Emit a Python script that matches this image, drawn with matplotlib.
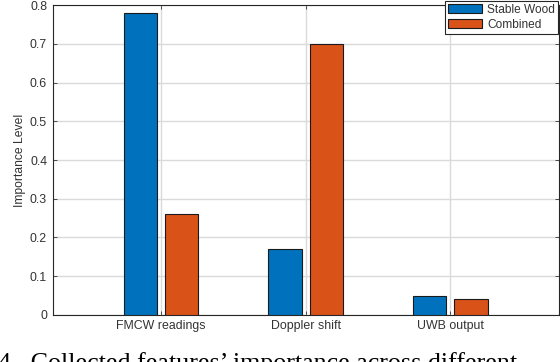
import numpy as np
import matplotlib
matplotlib.use("Agg")
import matplotlib.pyplot as plt

# feature importance
features = ['FMCW readings', 'Doppler shift', 'UWB output']
stable_wood = [0.78, 0.17, 0.05]
combined = [0.26, 0.70, 0.04]
series_names = ['Stable Wood', 'Combined']

plt.rcParams['font.family'] = ['Liberation Sans', 'DejaVu Sans']

fig = plt.figure(figsize=(5.6, 3.62), dpi=100)
ax = fig.add_axes([0.094, 0.130, 0.904, 0.856])

x = np.arange(1, len(features) + 1)
w = 0.23
ax.bar(x - 0.143, stable_wood, w, color='#0072BD', edgecolor='#1a1a1a',
       linewidth=0.8, label=series_names[0], zorder=3)
ax.bar(x + 0.143, combined, w, color='#D95319', edgecolor='#1a1a1a',
       linewidth=0.8, label=series_names[1], zorder=3)

ax.set_xlim(0.25, 3.75)
ax.set_ylim(0, 0.8)
ax.set_xticks(x)
ax.set_xticklabels(features)
ax.set_yticks(np.arange(0, 0.81, 0.1))
ax.set_yticklabels(['0'] + ['%.1f' % v for v in np.arange(0.1, 0.81, 0.1)])
ax.set_ylabel('Importance Level', fontsize=8.7, color='#333333', labelpad=3)

ax.grid(True, color='#dadada', linewidth=1.0, zorder=0)
ax.tick_params(direction='in', length=3, width=0.6, top=True, right=True,
               labelsize=8.9, colors='#333333', pad=4)
for s in ax.spines.values():
    s.set_color('#262626')
    s.set_linewidth(0.8)

leg = fig.legend(loc='upper right', bbox_to_anchor=(558 / 560, 361 / 362),
                 fontsize=8.6, fancybox=False, framealpha=1, edgecolor='#262626',
                 handlelength=2.9, handleheight=0.8, handletextpad=0.4,
                 borderpad=0.25, labelspacing=0.25, borderaxespad=0)
leg.get_frame().set_linewidth(0.8)
for t in leg.get_texts():
    t.set_color('#333333')

# caption of the paper, cut off at the bottom edge as in the source
fig.text(-0.004, -0.022, "4.  Collected features’ importance across different",
         family=['Liberation Serif', 'DejaVu Serif'], fontsize=18.7,
         va='baseline', ha='left', color='black')

fig.savefig('out.png', dpi=100)
